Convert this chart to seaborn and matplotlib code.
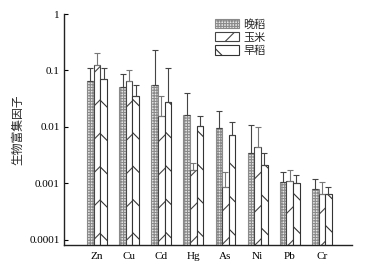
import numpy as np
import pandas as pd
import matplotlib
matplotlib.use("Agg")
import matplotlib.pyplot as plt
import matplotlib.patches as mpatches
import seaborn as sns

elements = ["Zn", "Cu", "Cd", "Hg", "As", "Ni", "Pb", "Cr"]
crops = ["晚稻", "玉米", "早稻"]
late_rice = [0.064, 0.050, 0.056, 0.016, 0.0097, 0.0034, 0.00104, 0.00078]
corn = [0.123, 0.064, 0.0157, 0.0017, 0.00085, 0.0044, 0.0011, 0.00064]
early_rice = [0.072, 0.036, 0.028, 0.0104, 0.0072, 0.0021, 0.0010, 0.00064]
late_rice_err = [0.11, 0.085, 0.23, 0.04, 0.019, 0.011, 0.0016, 0.0012]
corn_err = [0.20, 0.10, 0.036, 0.0023, 0.0016, 0.010, 0.0017, 0.00104]
early_rice_err = [0.11, 0.056, 0.11, 0.0157, 0.012, 0.0034, 0.0014, 0.00088]
yticks = [0.0001, 0.001, 0.01, 0.1, 1]
ytick_labels = ["0.0001", "0.001", "0.01", "0.1", "1"]

values = [late_rice, corn, early_rice]
errs = [late_rice_err, corn_err, early_rice_err]

df = pd.DataFrame({
    "element": np.tile(elements, 3),
    "crop": np.repeat(crops, len(elements)),
    "value": np.concatenate(values),
})

sns.set_style("ticks")
plt.rcParams["font.family"] = ["Liberation Serif", "Noto Sans CJK SC"]
plt.rcParams["hatch.linewidth"] = 0.8

fig = plt.figure(figsize=(3.68, 2.75), dpi=100)
ax = fig.add_axes([64/368, 1-245/275, (352-64)/368, (245-14)/275])

sns.barplot(data=df, x="element", y="value", hue="crop", order=elements,
            hue_order=crops, width=0.62, ax=ax, errorbar=None, legend=False,
            palette=["#d9d9d9", "white", "white"], saturation=1)
ax.set_yscale("log")

styles = [
    dict(hatch="++++++", edgecolor="#8a8a8a", facecolor="#e6e6e6"),
    dict(hatch="/", edgecolor="#444444", facecolor="white"),
    dict(hatch="\\", edgecolor="#333333", facecolor="white"),
]
err_colors = ["#444444", "#777777", "#444444"]

bar_containers = list(ax.containers)
for ci, cont in enumerate(bar_containers):
    xs, hs = [], []
    for bar in cont.patches:
        bar.set_hatch(styles[ci]["hatch"])
        bar.set_edgecolor(styles[ci]["edgecolor"])
        bar.set_facecolor(styles[ci]["facecolor"])
        bar.set_linewidth(0.8)
        xs.append(bar.get_x() + bar.get_width() / 2)
        hs.append(bar.get_height())
    hs = np.array(hs)
    up = np.array(errs[ci]) - hs
    ax.errorbar(xs, hs, yerr=[np.zeros_like(up), up], fmt="none",
                ecolor=err_colors[ci], elinewidth=0.8, capsize=2.2,
                capthick=0.8, zorder=3)

ax.set_ylim(8.1e-5, 1)
ax.set_xlim(-1.03, 7.94)
ax.set_yticks(yticks)
ax.set_yticklabels(ytick_labels)
ax.minorticks_off()
ax.tick_params(axis="both", direction="in", length=3, width=0.8,
               labelsize=8, colors="black")
ax.tick_params(axis="y", pad=3)
ax.tick_params(axis="x", pad=5)
for s in ["top", "right"]:
    ax.spines[s].set_visible(False)
for s in ["left", "bottom"]:
    ax.spines[s].set_linewidth(1.0)
    ax.spines[s].set_color("#222222")
ax.set_xlabel("")
ax.set_ylabel("生物富集因子", fontsize=8.5, family=["Noto Sans CJK SC", "DejaVu Sans"],
              labelpad=4)

handles = [mpatches.Patch(facecolor=st["facecolor"], edgecolor=st["edgecolor"],
                          hatch=st["hatch"], linewidth=0.8) for st in styles]
fig.legend(handles, crops, loc="upper left", bbox_to_anchor=(209/368, 1-13/275),
           frameon=False, handlelength=2.2, handleheight=0.9,
           labelspacing=0.25, borderpad=0, handletextpad=0.4,
           prop={"family": ["Noto Sans CJK SC", "DejaVu Sans"], "size": 8})

fig.savefig("out.png", dpi=100)
